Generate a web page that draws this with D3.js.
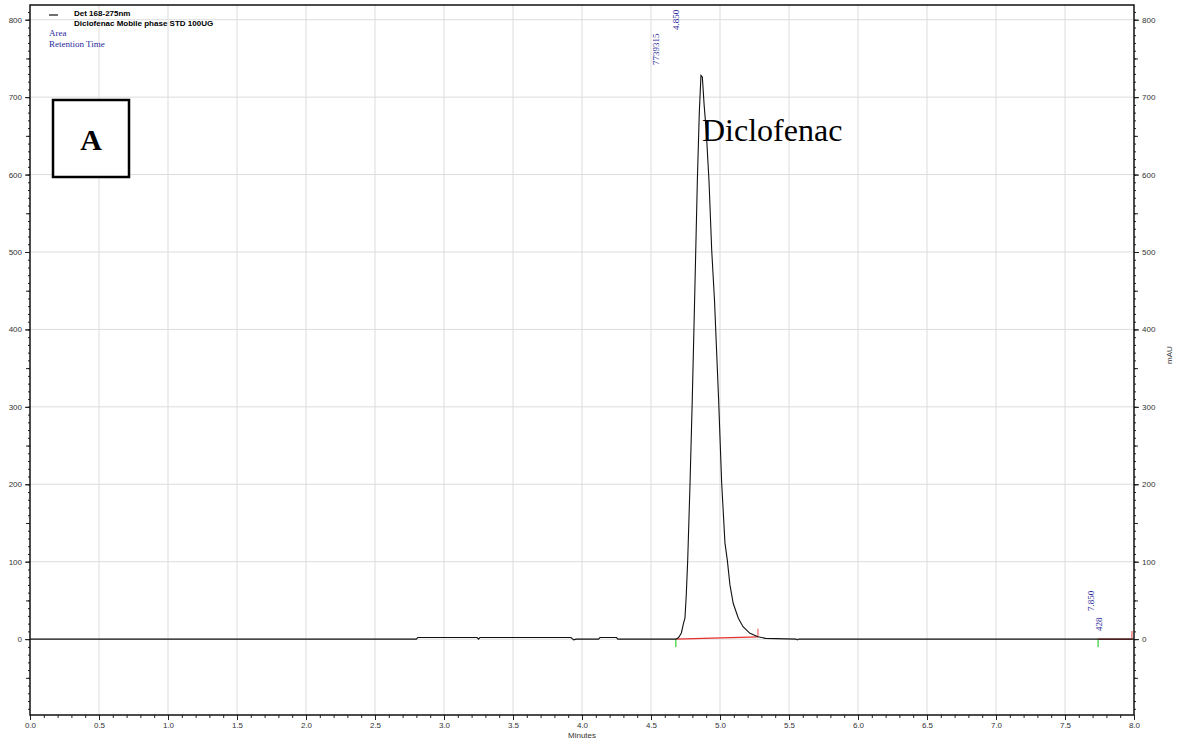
<!DOCTYPE html>
<html>
<head>
<meta charset="utf-8">
<script src="https://cdn.jsdelivr.net/npm/d3@7"></script>
<style>
    body { margin: 0; background: white; }
    text { font-family: "Liberation Sans", Arial, sans-serif; }
</style>
</head>
<body>
<svg id="chart"></svg>
<script>
// Chromatogram trace (minutes, mAU)
var traceTimes = [0.00, 2.80, 2.81, 3.24, 3.25, 3.26, 3.92, 3.94, 3.96, 4.00, 4.12, 4.13, 4.25, 4.26,
    4.68, 4.70, 4.72, 4.735, 4.746, 4.755, 4.766, 4.783, 4.799, 4.815, 4.836, 4.85, 4.862, 4.872, 4.885,
    4.90, 4.92, 4.94, 4.96, 4.99, 5.012, 5.036, 5.053, 5.072, 5.096, 5.133, 5.167, 5.217, 5.275, 5.33,
    5.55, 5.56, 5.57, 5.64, 8.00];
var traceValues = [0, 0, 2, 2, 0, 2, 2, -1, 0, 0, 0, 2, 2, 0,
    0, 2, 8, 20, 27, 55, 102, 202, 309, 430, 593, 680, 728, 726, 690,
    657, 593, 502, 438, 309, 202, 124, 102, 70, 46, 27, 16, 7.5, 3, 1,
    0, -1, 0, 0, 0];

// Integrated peaks
var peakTimes = ["4.850", "7.850"];
var peakAreas = ["7739315", "428"];
var peakStarts = [4.68, 7.74];
var peakEnds = [5.275, 7.985];
var startLevels = [0, 0];
var endLevels = [3, 0];

// Axis ticks
var xMajorTicks = [0.0, 0.5, 1.0, 1.5, 2.0, 2.5, 3.0, 3.5, 4.0, 4.5, 5.0, 5.5, 6.0, 6.5, 7.0, 7.5, 8.0];
var yMajorTicks = [0, 100, 200, 300, 400, 500, 600, 700, 800];

var svgWidth = 1177;
var svgHeight = 742;
var plot = { left: 30, right: 1134, top: 5, bottom: 715 };
var blue = "#2b2b9c";

var svg = d3.select("#chart")
    .attr("width", svgWidth)
    .attr("height", svgHeight);

var xScale = d3.scaleLinear().domain([0, 8]).range([plot.left, plot.right]);
var yScale = d3.scaleLinear().domain([-98, 819]).range([plot.bottom, plot.top]);

// minor tick values
var xMinor = d3.range(0, 81).map(function (i) { return i / 10; });
var yMinor = d3.range(-9, 82).map(function (i) { return i * 10; });

// Grid
svg.append("g").selectAll("line")
    .data(xMajorTicks.slice(1, -1))
    .enter().append("line")
    .attr("x1", function (d) { return xScale(d); })
    .attr("x2", function (d) { return xScale(d); })
    .attr("y1", plot.top).attr("y2", plot.bottom)
    .style("stroke", "#dcdcdc").style("stroke-width", 1);

svg.append("g").selectAll("line")
    .data(yMajorTicks)
    .enter().append("line")
    .attr("x1", plot.left).attr("x2", plot.right)
    .attr("y1", function (d) { return yScale(d); })
    .attr("y2", function (d) { return yScale(d); })
    .style("stroke", "#dcdcdc").style("stroke-width", 1);

// Axes
function styleAxis(g) {
    g.select(".domain").remove();
    g.selectAll("line").style("stroke", "#222");
    g.selectAll("text").style("font-size", "8px").style("fill", "#333");
}

svg.append("g")
    .attr("transform", "translate(0," + plot.bottom + ")")
    .call(d3.axisBottom(xScale).tickValues(xMinor).tickSize(3).tickFormat(""))
    .call(styleAxis);
svg.append("g")
    .attr("transform", "translate(0," + plot.bottom + ")")
    .call(d3.axisBottom(xScale).tickValues(xMajorTicks).tickSize(5).tickPadding(2).tickFormat(d3.format(".1f")))
    .call(styleAxis);

[["left", plot.left], ["right", plot.right]].forEach(function (side) {
    var axisFn = side[0] == "left" ? d3.axisLeft : d3.axisRight;
    svg.append("g")
        .attr("transform", "translate(" + side[1] + ",0)")
        .call(axisFn(yScale).tickValues(yMinor).tickSize(2).tickFormat(""))
        .call(styleAxis);
    svg.append("g")
        .attr("transform", "translate(" + side[1] + ",0)")
        .call(axisFn(yScale).tickValues(yMinor.filter(function (d) { return d % 50 == 0; })).tickSize(4).tickFormat(""))
        .call(styleAxis);
    svg.append("g")
        .attr("transform", "translate(" + side[1] + ",0)")
        .call(axisFn(yScale).tickValues(yMajorTicks).tickSize(5).tickPadding(3))
        .call(styleAxis);
});

// Frame
svg.append("rect")
    .attr("x", plot.left).attr("y", plot.top)
    .attr("width", plot.right - plot.left).attr("height", plot.bottom - plot.top)
    .style("fill", "none").style("stroke", "#111").style("stroke-width", 1.5);

// Axis titles
svg.append("text")
    .attr("x", (plot.left + plot.right) / 2).attr("y", 738)
    .attr("text-anchor", "middle")
    .style("font-size", "8px").style("fill", "#333")
    .text("Minutes");

svg.append("text")
    .attr("transform", "translate(1172,355) rotate(-90)")
    .attr("text-anchor", "middle")
    .style("font-size", "8px").style("fill", "#333")
    .text("mAU");

// Baselines for integrated peaks
peakStarts.forEach(function (s, i) {
    svg.append("line")
        .attr("x1", xScale(s)).attr("y1", yScale(startLevels[i]))
        .attr("x2", xScale(peakEnds[i])).attr("y2", yScale(endLevels[i]))
        .style("stroke", "#e83030").style("stroke-width", 1.2);
    svg.append("line")
        .attr("x1", xScale(s)).attr("x2", xScale(s))
        .attr("y1", yScale(startLevels[i])).attr("y2", yScale(startLevels[i]) + 8)
        .style("stroke", "#30d030").style("stroke-width", 1.2);
    svg.append("line")
        .attr("x1", xScale(peakEnds[i])).attr("x2", xScale(peakEnds[i]))
        .attr("y1", yScale(endLevels[i])).attr("y2", yScale(endLevels[i]) - 8)
        .style("stroke", "#f06060").style("stroke-width", 1.2);
});

// Trace
var traceData = traceTimes.map(function (t, i) { return { t: t, v: traceValues[i] }; });
var line = d3.line()
    .x(function (d) { return xScale(d.t); })
    .y(function (d) { return yScale(d.v); });

svg.append("path")
    .datum(traceData)
    .attr("d", line)
    .style("fill", "none")
    .style("stroke", "#111")
    .style("stroke-width", 1.1);

// Peak labels (retention time and area, rotated)
var labelSpots = [
    { rtDx: 3, rtY: 30, areaDx: -17, areaY: 65 },
    { rtDx: -4, rtY: 611, areaDx: 4, areaY: 631 }
];
peakTimes.forEach(function (rt, i) {
    var x0 = xScale(peakStarts[i]);
    svg.append("text")
        .attr("transform", "translate(" + (x0 + labelSpots[i].rtDx) + "," + labelSpots[i].rtY + ") rotate(-90)")
        .style("font-family", "'Liberation Serif', serif")
        .style("font-size", "9px").style("fill", blue)
        .text(rt);
    svg.append("text")
        .attr("transform", "translate(" + (x0 + labelSpots[i].areaDx) + "," + labelSpots[i].areaY + ") rotate(-90)")
        .style("font-family", "'Liberation Serif', serif")
        .style("font-size", "9px").style("fill", blue)
        .text(peakAreas[i]);
});

// Legend
svg.append("line")
    .attr("x1", 49).attr("x2", 58).attr("y1", 15).attr("y2", 15)
    .style("stroke", "#333").style("stroke-width", 1.4);
svg.append("text").attr("x", 74).attr("y", 16)
    .style("font-size", "8px").style("font-weight", "bold")
    .text("Det 168-275nm");
svg.append("text").attr("x", 74).attr("y", 26)
    .style("font-size", "8px").style("font-weight", "bold")
    .text("Diclofenac Mobile phase STD 100UG");
svg.append("text").attr("x", 49).attr("y", 36)
    .style("font-family", "'Liberation Serif', serif")
    .style("font-size", "9px").style("fill", blue)
    .text("Area");
svg.append("text").attr("x", 49).attr("y", 47)
    .style("font-family", "'Liberation Serif', serif")
    .style("font-size", "9px").style("fill", blue)
    .text("Retention Time");

// Compound name
svg.append("text")
    .attr("x", 702).attr("y", 141)
    .style("font-family", "'Liberation Serif', serif")
    .style("font-size", "32px")
    .text("Diclofenac");

// Panel label box
svg.append("rect")
    .attr("x", 53).attr("y", 100).attr("width", 76).attr("height", 77)
    .style("fill", "white").style("stroke", "black").style("stroke-width", 2.5);
svg.append("text")
    .attr("x", 91).attr("y", 150)
    .attr("text-anchor", "middle")
    .style("font-family", "'Liberation Serif', serif")
    .style("font-size", "30px").style("font-weight", "bold")
    .text("A");
</script>
</body>
</html>
